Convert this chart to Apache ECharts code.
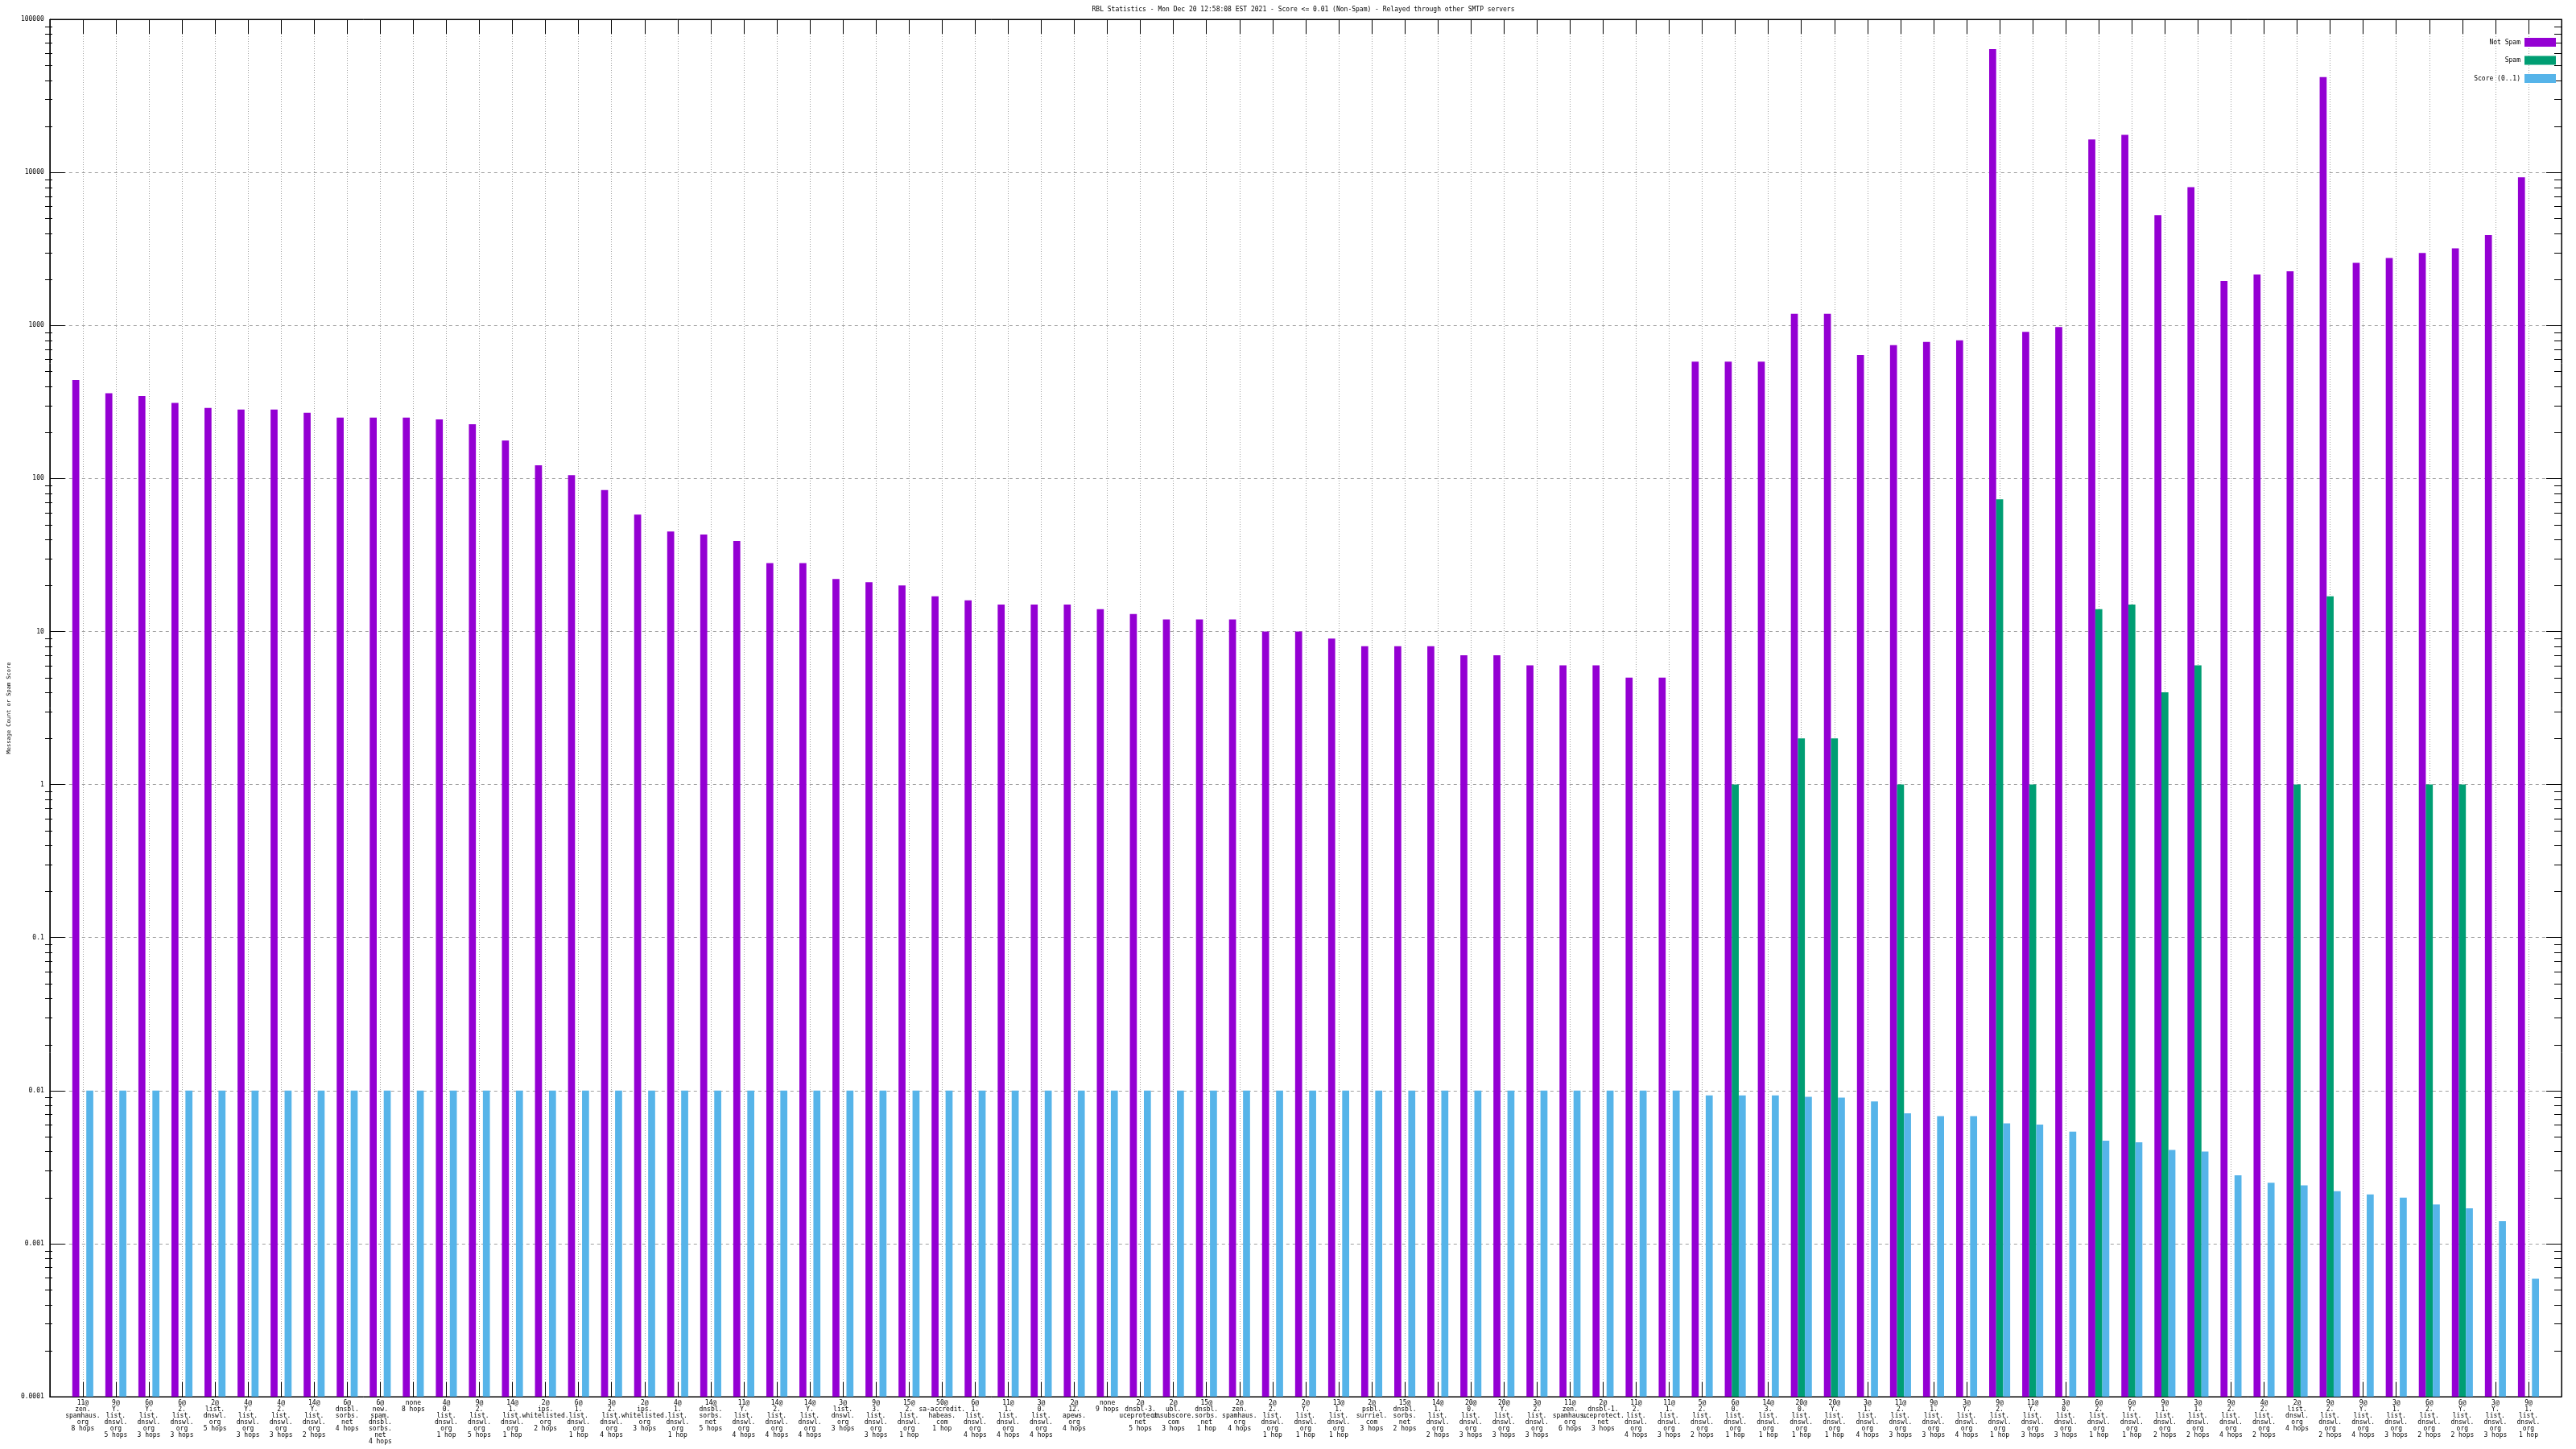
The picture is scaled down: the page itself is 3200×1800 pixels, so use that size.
<!DOCTYPE html>
<html>
<head>
<meta charset="utf-8">
<script src="https://cdn.jsdelivr.net/npm/echarts@6/dist/echarts.min.js"></script>
<style>html,body{margin:0;padding:0;background:#fff}#c{width:3200px;height:1800px}</style>
</head>
<body>
<div id="c"></div>
<script>
const titleText = 'RBL Statistics - Mon Dec 20 12:58:08 EST 2021 - Score <= 0.01 (Non-Spam) - Relayed through other SMTP servers';
const yAxisTitle = 'Message Count or Spam Score';
const seriesNames = ['Not Spam', 'Spam', 'Score (0..1)'];

const categories = [
 '11@\nzen.\nspamhaus.\norg\n8 hops',
 '9@\nY.\nlist.\ndnswl.\norg\n5 hops',
 '6@\nY.\nlist.\ndnswl.\norg\n3 hops',
 '6@\n2.\nlist.\ndnswl.\norg\n3 hops',
 '2@\nlist.\ndnswl.\norg\n5 hops',
 '4@\nY.\nlist.\ndnswl.\norg\n3 hops',
 '4@\n2.\nlist.\ndnswl.\norg\n3 hops',
 '14@\nY.\nlist.\ndnswl.\norg\n2 hops',
 '6@\ndnsbl.\nsorbs.\nnet\n4 hops',
 '6@\nnew.\nspam.\ndnsbl.\nsorbs.\nnet\n4 hops',
 'none\n8 hops',
 '4@\n0.\nlist.\ndnswl.\norg\n1 hop',
 '9@\n2.\nlist.\ndnswl.\norg\n5 hops',
 '14@\n1.\nlist.\ndnswl.\norg\n1 hop',
 '2@\nips.\nwhitelisted.\norg\n2 hops',
 '6@\n1.\nlist.\ndnswl.\norg\n1 hop',
 '3@\n2.\nlist.\ndnswl.\norg\n4 hops',
 '2@\nips.\nwhitelisted.\norg\n3 hops',
 '4@\n1.\nlist.\ndnswl.\norg\n1 hop',
 '14@\ndnsbl.\nsorbs.\nnet\n5 hops',
 '11@\nY.\nlist.\ndnswl.\norg\n4 hops',
 '14@\n2.\nlist.\ndnswl.\norg\n4 hops',
 '14@\nY.\nlist.\ndnswl.\norg\n4 hops',
 '3@\nlist.\ndnswl.\norg\n3 hops',
 '9@\n3.\nlist.\ndnswl.\norg\n3 hops',
 '15@\n2.\nlist.\ndnswl.\norg\n1 hop',
 '50@\nsa-accredit.\nhabeas.\ncom\n1 hop',
 '6@\n1.\nlist.\ndnswl.\norg\n4 hops',
 '11@\n1.\nlist.\ndnswl.\norg\n4 hops',
 '3@\n0.\nlist.\ndnswl.\norg\n4 hops',
 '2@\n12.\napews.\norg\n4 hops',
 'none\n9 hops',
 '2@\ndnsbl-3.\nuceprotect.\nnet\n5 hops',
 '2@\nubl.\nunsubscore.\ncom\n3 hops',
 '15@\ndnsbl.\nsorbs.\nnet\n1 hop',
 '2@\nzen.\nspamhaus.\norg\n4 hops',
 '2@\n2.\nlist.\ndnswl.\norg\n1 hop',
 '2@\nY.\nlist.\ndnswl.\norg\n1 hop',
 '13@\n1.\nlist.\ndnswl.\norg\n1 hop',
 '2@\npsbl.\nsurriel.\ncom\n3 hops',
 '15@\ndnsbl.\nsorbs.\nnet\n2 hops',
 '14@\n1.\nlist.\ndnswl.\norg\n2 hops',
 '20@\n0.\nlist.\ndnswl.\norg\n3 hops',
 '20@\nY.\nlist.\ndnswl.\norg\n3 hops',
 '3@\n2.\nlist.\ndnswl.\norg\n3 hops',
 '11@\nzen.\nspamhaus.\norg\n6 hops',
 '2@\ndnsbl-1.\nuceprotect.\nnet\n3 hops',
 '11@\n2.\nlist.\ndnswl.\norg\n4 hops',
 '11@\n1.\nlist.\ndnswl.\norg\n3 hops',
 '5@\n2.\nlist.\ndnswl.\norg\n2 hops',
 '6@\n0.\nlist.\ndnswl.\norg\n1 hop',
 '14@\n3.\nlist.\ndnswl.\norg\n1 hop',
 '20@\n0.\nlist.\ndnswl.\norg\n1 hop',
 '20@\nY.\nlist.\ndnswl.\norg\n1 hop',
 '3@\n1.\nlist.\ndnswl.\norg\n4 hops',
 '11@\n2.\nlist.\ndnswl.\norg\n3 hops',
 '9@\n1.\nlist.\ndnswl.\norg\n3 hops',
 '3@\nY.\nlist.\ndnswl.\norg\n4 hops',
 '9@\n2.\nlist.\ndnswl.\norg\n1 hop',
 '11@\nY.\nlist.\ndnswl.\norg\n3 hops',
 '3@\n0.\nlist.\ndnswl.\norg\n3 hops',
 '6@\n2.\nlist.\ndnswl.\norg\n1 hop',
 '6@\nY.\nlist.\ndnswl.\norg\n1 hop',
 '9@\n1.\nlist.\ndnswl.\norg\n2 hops',
 '3@\n1.\nlist.\ndnswl.\norg\n2 hops',
 '9@\n2.\nlist.\ndnswl.\norg\n4 hops',
 '4@\n2.\nlist.\ndnswl.\norg\n2 hops',
 '2@\nlist.\ndnswl.\norg\n4 hops',
 '9@\n2.\nlist.\ndnswl.\norg\n2 hops',
 '9@\nY.\nlist.\ndnswl.\norg\n4 hops',
 '3@\n1.\nlist.\ndnswl.\norg\n3 hops',
 '6@\n2.\nlist.\ndnswl.\norg\n2 hops',
 '6@\nY.\nlist.\ndnswl.\norg\n2 hops',
 '3@\nY.\nlist.\ndnswl.\norg\n3 hops',
 '9@\n1.\nlist.\ndnswl.\norg\n1 hop'
];

const notSpam = [
 440, 360, 345, 312, 289, 282, 282, 269, 250, 250,
 250, 243, 226, 177, 122, 105, 84, 58, 45, 43,
 39, 28, 28, 22, 21, 20, 17, 16, 15, 15,
 15, 14, 13, 12, 12, 12, 10, 10, 9, 8,
 8, 8, 7, 7, 6, 6, 6, 5, 5, 580,
 580, 580, 1190, 1190, 640, 743, 780, 800, 63800, 906,
 975, 16400, 17600, 5260, 8000, 1950, 2150, 2260, 41900, 2560,
 2760, 2970, 3190, 3890, 9290
];

const spam = [
 0, 0, 0, 0, 0, 0, 0, 0, 0, 0,
 0, 0, 0, 0, 0, 0, 0, 0, 0, 0,
 0, 0, 0, 0, 0, 0, 0, 0, 0, 0,
 0, 0, 0, 0, 0, 0, 0, 0, 0, 0,
 0, 0, 0, 0, 0, 0, 0, 0, 0, 0,
 1, 0, 2, 2, 0, 1, 0, 0, 73, 1,
 0, 14, 15, 4, 6, 0, 0, 1, 17, 0,
 0, 1, 1, 0, 0
];

const score = [
 0.01, 0.01, 0.01, 0.01, 0.01, 0.01, 0.01, 0.01, 0.01, 0.01,
 0.01, 0.01, 0.01, 0.01, 0.01, 0.01, 0.01, 0.01, 0.01, 0.01,
 0.01, 0.01, 0.01, 0.01, 0.01, 0.01, 0.01, 0.01, 0.01, 0.01,
 0.01, 0.01, 0.01, 0.01, 0.01, 0.01, 0.01, 0.01, 0.01, 0.01,
 0.01, 0.01, 0.01, 0.01, 0.01, 0.01, 0.01, 0.01, 0.01, 0.0093,
 0.0093, 0.0093, 0.0091, 0.009, 0.0085, 0.0071, 0.0068, 0.0068, 0.0061, 0.006,
 0.0054, 0.0047, 0.0046, 0.0041, 0.004, 0.0028, 0.0025, 0.0024, 0.0022, 0.0021,
 0.002, 0.0018, 0.0017, 0.0014, 0.00059
];

const yTickLabels = ['0.0001', '0.001', '0.01', '0.1', '1', '10', '100', '1000', '10000', '100000'];

// --- build options ---
const FONT = 'DejaVu Sans Mono';
const colors = ['#9400d3', '#009e73', '#56b4e9'];
// one empty slot on each side (gnuplot x range)
const padCats = [''].concat(categories, ['']);
const pad = arr => [null].concat(arr.map(v => (v > 0 ? v : null)), [null]);
const isReal = (i, v) => v !== '';
const GRID = {left: 56, right: 18, top: 24, bottom: 65};

const chart = echarts.init(document.getElementById('c'), null, {renderer: 'canvas'});

const option = {
  animation: false,
  backgroundColor: '#ffffff',
  textStyle: {fontFamily: FONT},
  title: {
    text: titleText, left: 1619, top: 8, textAlign: 'center', padding: 0,
    textStyle: {fontFamily: FONT, fontSize: 8, fontWeight: 'normal', color: '#000'}
  },
  legend: seriesNames.map((n, i) => ({
    data: [n], orient: 'vertical', align: 'right', right: 25, top: 47 + i * 22.5,
    padding: 0, itemWidth: 39, itemHeight: 11, icon: 'rect', selectedMode: false,
    textStyle: {fontFamily: FONT, fontSize: 8, color: '#000'}
  })),
  grid: Object.assign({show: true, borderColor: '#000', borderWidth: 1, containLabel: false}, GRID),
  xAxis: [{
    type: 'category', data: padCats, boundaryGap: false, position: 'bottom',
    axisLine: {show: true, lineStyle: {color: '#000', width: 1}},
    axisTick: {show: true, inside: true, length: 18, interval: isReal, lineStyle: {color: '#000', width: 1}},
    axisLabel: {show: true, interval: 0, margin: 4, fontFamily: FONT, fontSize: 8, lineHeight: 8, color: '#000', align: 'center'},
    splitLine: {show: true, interval: isReal, lineStyle: {color: '#a0a0a0', width: 1, type: [1, 2]}}
  }, {
    type: 'category', data: padCats, boundaryGap: false, position: 'top',
    axisLine: {show: true, lineStyle: {color: '#000'}},
    axisTick: {show: true, inside: true, length: 18, interval: isReal, lineStyle: {color: '#000'}},
    axisLabel: {show: false}, splitLine: {show: false}
  }],
  yAxis: [{
    type: 'log', logBase: 10, min: 0.0001, max: 100000, startValue: 0.0001, splitNumber: 9,
    name: yAxisTitle, nameLocation: 'middle', nameGap: 46, nameRotate: 90,
    nameTextStyle: {fontFamily: FONT, fontSize: 7, color: '#000'},
    axisLine: {show: true, lineStyle: {color: '#000'}},
    axisTick: {show: true, inside: true, length: 19, lineStyle: {color: '#000'}},
    axisLabel: {
      show: true, margin: 7, fontFamily: FONT, fontSize: 8, color: '#000',
      formatter: v => yTickLabels[Math.round(Math.log10(v)) + 4]
    },
    splitLine: {show: true, lineStyle: {color: '#a0a0a0', width: 1, type: [4, 4]}}
  }, {
    type: 'log', logBase: 10, min: 0.0001, max: 100000, splitNumber: 9, position: 'right',
    axisLine: {show: true, lineStyle: {color: '#000'}},
    axisTick: {show: true, inside: true, length: 19, lineStyle: {color: '#000'}},
    axisLabel: {show: false}, splitLine: {show: false}
  }],
  series: [notSpam, spam, score].map((arr, i) => ({
    name: seriesNames[i], type: 'bar', xAxisIndex: 0, yAxisIndex: 0,
    data: pad(arr), barWidth: 8.7, barGap: '0%',
    itemStyle: {color: colors[i]}
  }))
};
chart.setOption(option);

// minor log ticks (2..9 per decade) on left and right, positioned via the axis scale
const minor = [];
const xl = GRID.left, xr = 3200 - GRID.right;
for (let e = -4; e < 5; e++) {
  for (let k = 2; k <= 9; k++) {
    const y = Math.round(chart.convertToPixel({yAxisIndex: 0}, k * Math.pow(10, e))) + 0.5;
    minor.push({type: 'line', shape: {x1: xl, y1: y, x2: xl + 9, y2: y}, style: {stroke: '#000', lineWidth: 1}, silent: true});
    minor.push({type: 'line', shape: {x1: xr - 9, y1: y, x2: xr, y2: y}, style: {stroke: '#000', lineWidth: 1}, silent: true});
  }
}
chart.setOption({graphic: minor});
</script>
</body>
</html>
